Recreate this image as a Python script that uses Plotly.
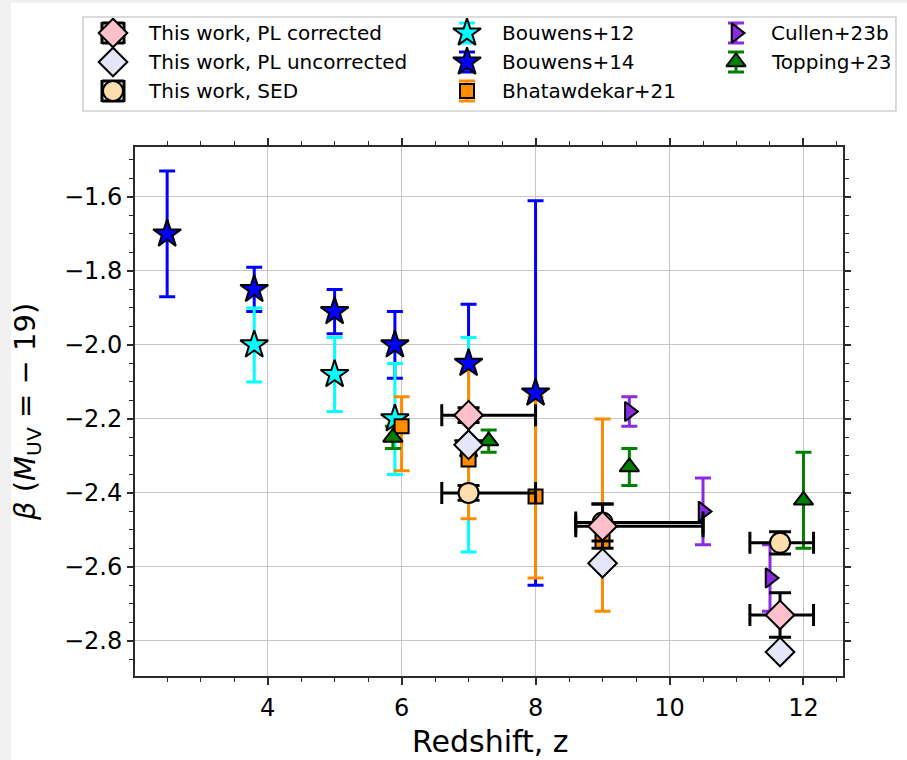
import plotly.graph_objects as go

W, H = 907, 760
FONT = "DejaVu Sans"

# ---------------- data ----------------
bouwens14_z = [2.5, 3.8, 5.0, 5.9, 7.0, 8.0]
bouwens14_beta = [-1.70, -1.85, -1.91, -2.00, -2.05, -2.13]
bouwens14_err = [0.17, 0.06, 0.06, 0.09, 0.16, 0.52]

bouwens12_z = [3.8, 5.0, 5.9, 7.0]
bouwens12_beta = [-2.00, -2.08, -2.20, -2.27]
bouwens12_err = [0.10, 0.10, 0.15, 0.29]

bhat_z = [6.0, 7.0, 8.0, 9.0]
bhat_beta = [-2.22, -2.31, -2.41, -2.53]
bhat_err_hi = [0.08, 0.24, 0.27, 0.33]
bhat_err_lo = [0.12, 0.16, 0.22, 0.19]

topping_z = [5.87, 7.3, 9.4, 12.0]
topping_beta = [-2.25, -2.26, -2.33, -2.42]
topping_err = [0.03, 0.03, 0.05, 0.13]

cullen_z = [9.4, 10.5, 11.5]
cullen_beta = [-2.18, -2.45, -2.63]
cullen_err = [0.04, 0.09, 0.09]

this_z = [7.0, 9.0, 11.65]
this_z_lo = [0.4, 0.4, 0.45]
this_z_hi = [1.0, 1.5, 0.5]
pl_corr_beta = [-2.19, -2.49, -2.73]
pl_corr_err = [0.02, 0.06, 0.06]
pl_uncorr_beta = [-2.27, -2.59, -2.83]
sed_beta = [-2.40, -2.48, -2.535]
sed_err = [0.02, 0.05, 0.03]

x_ticks = [4, 6, 8, 10, 12]
y_ticks = [-1.6, -1.8, -2.0, -2.2, -2.4, -2.6, -2.8]

# ---------------- styles ----------------
STYLE = {
    "This work, PL corrected": dict(symbol="diamond", size=22, color="pink", err="black", cap=11),
    "This work, PL uncorrected": dict(symbol="diamond", size=22, color="lavender", err="black", cap=11),
    "This work, SED": dict(symbol="circle", size=20, color="navajowhite", err="black", cap=11),
    "Bouwens+12": dict(symbol="star", size=21, color="cyan", err="cyan", cap=8),
    "Bouwens+14": dict(symbol="star", size=21, color="blue", err="blue", cap=8),
    "Bhatawdekar+21": dict(symbol="square", size=14, color="darkorange", err="darkorange", cap=8),
    "Cullen+23b": dict(symbol="triangle-right", size=17, color="blueviolet", err="blueviolet", cap=8),
    "Topping+23": dict(symbol="triangle-up", size=17, color="green", err="green", cap=8),
}


def err(arr, color, cap, arrminus=None):
    d = dict(type="data", array=arr, color=color, thickness=3, width=cap, visible=True)
    if arrminus is not None:
        d["symmetric"] = False
        d["arrayminus"] = arrminus
    return d


def series(name, x, y, ey=None, ey_lo=None, ex=None, ex_lo=None, xa="x", ya="y",
           bars=True, marks=True):
    """One scatter trace; bars/marks let the error bars and the markers be layered separately."""
    s = STYLE[name]
    marker = dict(symbol=s["symbol"], size=s["size"], color=s["color"],
                  line=dict(color="black", width=2))
    if not marks:
        marker = dict(size=s["size"], opacity=0)
    kw = dict(x=x, y=y, mode="markers", name=name, showlegend=False,
              xaxis=xa, yaxis=ya, cliponaxis=False, marker=marker)
    if not marks:
        kw["hoverinfo"] = "skip"
    if bars and ey is not None:
        kw["error_y"] = err(ey, s["err"], s["cap"], ey_lo)
    if bars and ex is not None:
        kw["error_x"] = err(ex, s["err"], s["cap"], ex_lo)
    return go.Scatter(**kw)


literature = [
    ("Bouwens+14", bouwens14_z, bouwens14_beta, bouwens14_err, None, None, None),
    ("Bouwens+12", bouwens12_z, bouwens12_beta, bouwens12_err, None, None, None),
    ("Bhatawdekar+21", bhat_z, bhat_beta, bhat_err_hi, bhat_err_lo, None, None),
    ("Cullen+23b", cullen_z, cullen_beta, cullen_err, None, None, None),
    ("Topping+23", topping_z, topping_beta, topping_err, None, None, None),
]
this_work = [
    ("This work, SED", this_z, sed_beta, sed_err, None, this_z_hi, this_z_lo),
    ("This work, PL uncorrected", this_z, pl_uncorr_beta, None, None, None, None),
    ("This work, PL corrected", this_z, pl_corr_beta, pl_corr_err, None, this_z_hi, this_z_lo),
]

fig = go.Figure()
# error bars sit under the markers of each group
for group in (literature, this_work):
    for name, x, y, ey, eyl, ex, exl in group:
        fig.add_trace(series(name, x, y, ey, eyl, ex, exl, marks=False))
    for name, x, y, ey, eyl, ex, exl in group:
        fig.add_trace(series(name, x, y, bars=False))

# ---------------- legend (three columns, drawn on a pixel-scaled helper axis) ----------------
legend_columns = [
    ["This work, PL corrected", "This work, PL uncorrected", "This work, SED"],
    ["Bouwens+12", "Bouwens+14", "Bhatawdekar+21"],
    ["Cullen+23b", "Topping+23"],
]
with_xerr = {"This work, PL corrected", "This work, SED"}
no_err = {"This work, PL uncorrected"}

box_l, box_r, box_t, box_b = 83, 896, 17, 111
col_x = [113, 467, 736]
row_y = [33, 62, 91]
text_gap = 33
annotations = []
for ci, col in enumerate(legend_columns):
    for ri, name in enumerate(col):
        cx, cy = col_x[ci], row_y[ri]
        ey = None if name in no_err else [10]
        ex = [11] if name in with_xerr else None
        fig.add_trace(series(name, [cx], [cy], ey, None, ex, None, xa="x2", ya="y2"))
        annotations.append(dict(
            x=(cx + text_gap) / W, y=1 - cy / H, xref="paper", yref="paper",
            text=name, showarrow=False, xanchor="left", yanchor="middle",
            font=dict(family=FONT, size=20, color="black"),
        ))

# axis titles
annotations.append(dict(
    x=490 / W, y=1 - 741 / H, xref="paper", yref="paper", text="Redshift, z",
    showarrow=False, xanchor="center", yanchor="middle",
    font=dict(family=FONT, size=30, color="black"),
))
annotations.append(dict(
    x=27 / W, y=1 - 412 / H, xref="paper", yref="paper",
    text="<i>β</i> (<i>M</i><sub>UV</sub> = − 19)", textangle=-90,
    showarrow=False, xanchor="center", yanchor="middle",
    font=dict(family=FONT, size=29, color="black"),
))

# ---------------- layout ----------------
plot_l, plot_r, plot_t, plot_b = 135, 843, 147, 676
AX = "#2b2b2b"
common = dict(
    showline=True, linecolor=AX, linewidth=2, mirror="ticks",
    ticks="outside", tickwidth=1.6, tickcolor=AX,
    showgrid=True, gridcolor="#c6c6c6", gridwidth=1.4,
    zeroline=False, automargin=False,
    tickfont=dict(family=FONT, size=24, color="black"),
)

fig.update_layout(
    width=W, height=H, autosize=False,
    margin=dict(l=0, r=0, t=0, b=0),
    paper_bgcolor="#f0f0f0", plot_bgcolor="white",
    font=dict(family=FONT, color="black"),
    showlegend=False,
    xaxis=dict(
        domain=[plot_l / W, plot_r / W], range=[2.02, 12.59],
        tickmode="array", tickvals=x_ticks, ticktext=[str(v) for v in x_ticks],
        ticklen=7, ticklabelstandoff=2,
        minor=dict(dtick=0.5, tick0=0, ticks="outside", ticklen=4, tickwidth=1.3,
                   tickcolor=AX, showgrid=False),
        **common,
    ),
    yaxis=dict(
        domain=[1 - plot_b / H, 1 - plot_t / H], range=[-2.895, -1.465],
        tickmode="array", tickvals=y_ticks,
        ticktext=[f"{v:.1f}".replace("-", "\u2212") for v in y_ticks],
        ticklen=6,
        minor=dict(dtick=0.05, tick0=0, ticks="outside", ticklen=4, tickwidth=1.3,
                   tickcolor=AX, showgrid=False),
        **common,
    ),
    xaxis2=dict(domain=[box_l / W, box_r / W], range=[box_l, box_r], anchor="y2",
                visible=False, fixedrange=True),
    yaxis2=dict(domain=[1 - box_b / H, 1 - box_t / H], range=[box_b, box_t], anchor="x2",
                visible=False, fixedrange=True),
    annotations=annotations,
    shapes=[
        dict(type="rect", xref="paper", yref="paper", x0=11 / W, x1=1, y0=0, y1=1 - 3 / H,
             fillcolor="white", line=dict(width=0), layer="below"),
        dict(type="rect", xref="paper", yref="paper", x0=box_l / W, x1=box_r / W,
             y0=1 - box_b / H, y1=1 - box_t / H, fillcolor="rgba(0,0,0,0)",
             line=dict(color="#d0d0d0", width=1.5), layer="above"),
    ],
)

fig.write_html("out.html")
